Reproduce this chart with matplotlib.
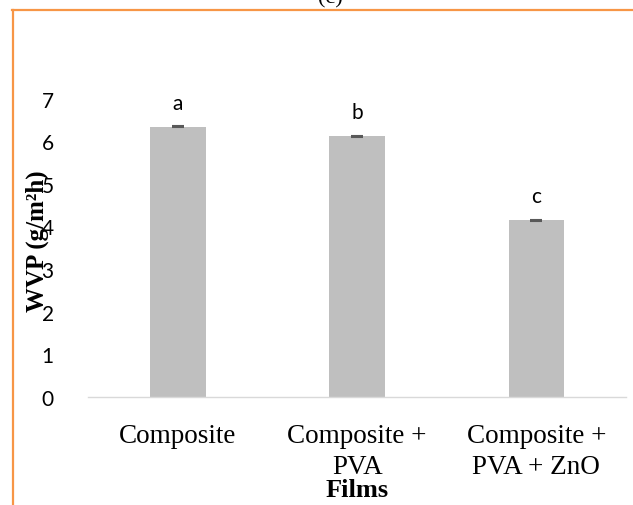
import matplotlib
matplotlib.use("Agg")
import matplotlib.pyplot as plt
from matplotlib.lines import Line2D

# data
films = ["Composite", "Composite +\nPVA", "Composite +\nPVA + ZnO"]
wvp = [6.34, 6.11, 4.14]
wvp_err = [0.02, 0.02, 0.02]
letters = ["a", "b", "c"]
y_ticks = [0, 1, 2, 3, 4, 5, 6, 7]

W, H = 633, 506
fig = plt.figure(figsize=(W / 100, H / 100), dpi=100)

# axes placed in pixel terms of the reference
left, right, base, top = 88.4, 626, 398, 99.5
ax = fig.add_axes([left / W, (H - base) / H, (right - left) / W, (base - top) / H])

x = list(range(len(films)))
ax.bar(x, wvp, width=0.31, color="#BFBFBF", zorder=2)
ax.errorbar(x, wvp, yerr=wvp_err, fmt="none", ecolor="#595959",
            elinewidth=1.5, capsize=4, capthick=1.5, zorder=3)

for xi, v, lab in zip(x, wvp, letters):
    ax.annotate(lab, (xi, v), xytext=(0, 13), textcoords="offset points",
                ha="center", va="baseline", fontsize=15, family="Lato")

ax.set_xlim(-0.5, 2.5)
ax.set_ylim(0, 7)
ax.set_yticks(y_ticks)
ax.set_xticks(x)
ax.set_xticklabels(films, family="Liberation Serif", fontsize=19.5, linespacing=1.3)
for t in ax.get_yticklabels():
    t.set_family("Lato")
    t.set_fontsize(15)

ax.tick_params(axis="both", length=0)
ax.tick_params(axis="x", pad=19)
ax.tick_params(axis="y", pad=25)
for s in ["top", "right", "left"]:
    ax.spines[s].set_visible(False)
ax.spines["bottom"].set_color("#D9D9D9")
ax.spines["bottom"].set_linewidth(1.0)

fig.text(37 / W, 1 - 241 / H, "WVP (g/m²h)", rotation=90, ha="center", va="center",
         family="Liberation Serif", fontweight="bold", fontsize=18)
fig.text(357.5 / W, 1 - 491 / H, "Films", ha="center", va="center",
         family="Liberation Serif", fontweight="bold", fontsize=19)

# cropped panel tag and orange frame of the original figure
fig.text(330 / W, 1 - 8 / H, "(c)", ha="center", va="bottom",
         family="Liberation Serif", fontsize=16)
orange = "#F79646"
fig.add_artist(Line2D([13 / W, 13 / W], [0, 1 - 11 / H], color=orange, lw=1.6,
                      transform=fig.transFigure))
fig.add_artist(Line2D([12.4 / W, 1], [1 - 11 / H, 1 - 11 / H], color=orange, lw=1.6,
                      transform=fig.transFigure))

fig.savefig("out.png", dpi=100)
